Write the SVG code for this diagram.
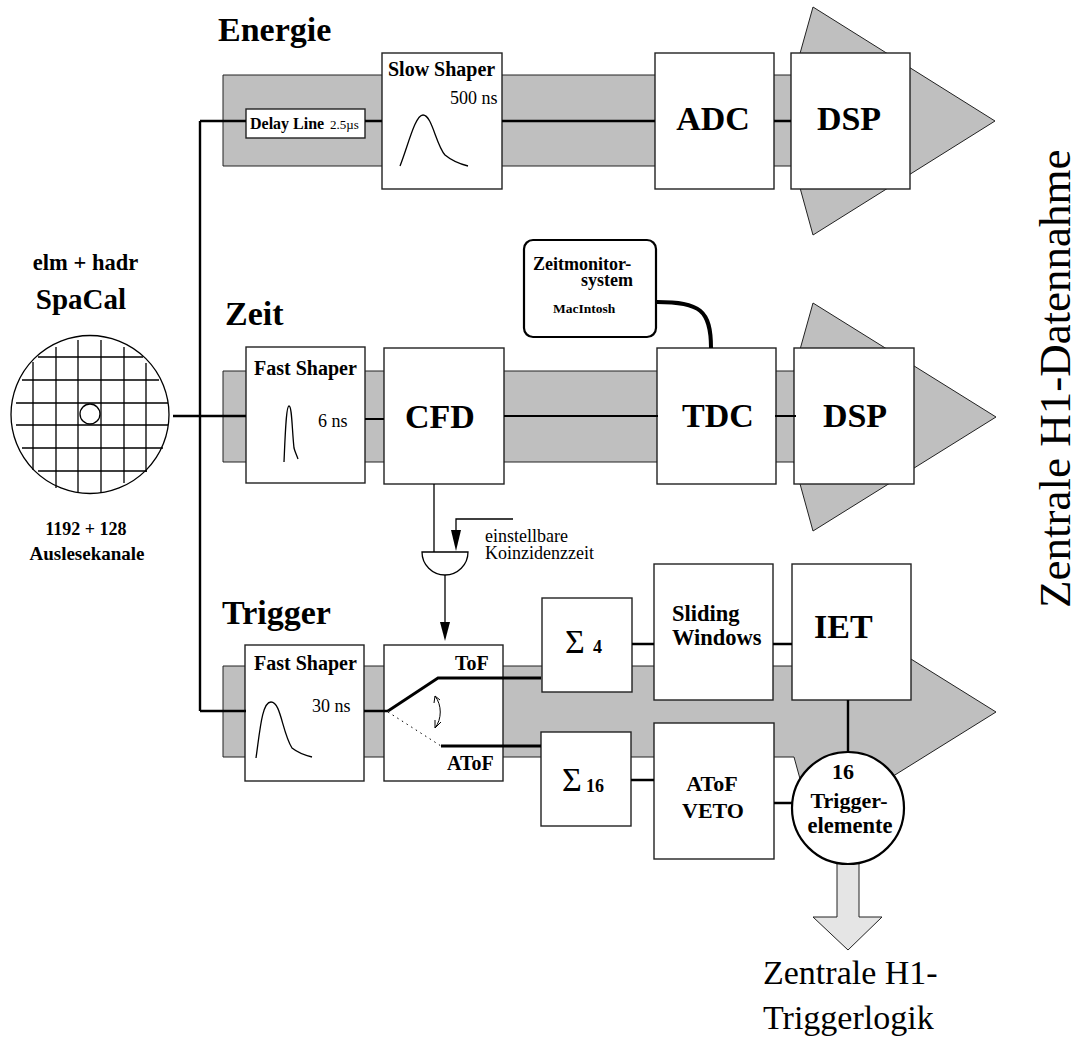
<svg xmlns="http://www.w3.org/2000/svg" width="1075" height="1038" viewBox="0 0 1075 1038">
<style>
text{font-family:"Liberation Serif","Times New Roman",serif;fill:#000}
.b{font-weight:bold}
.box{fill:#fff;stroke:#222;stroke-width:1.4}
.bar{fill:#bfbfbf;stroke:#222;stroke-width:1}
.w{fill:none;stroke:#000;stroke-width:2.4}
.t{fill:none;stroke:#000;stroke-width:1.3}
.h1{font-size:34px;font-weight:bold}
.lab{font-size:20px;font-weight:bold}
.m{text-anchor:middle}
</style>
<rect width="1075" height="1038" fill="#fff"/>
<g id="flow-arrows">
<path class="bar" d="M223 75H794L813 7L995 121L813 235L794 166H223Z"/>
<path class="bar" d="M223 371H794L813 303L996 417L813 531L794 462H223Z"/>
<path class="bar" d="M223 666H794L813 598L996 712L813 826L794 757H223Z"/>
</g>
<g id="spacal">
<circle cx="90" cy="414.500" r="79" fill="#fff" stroke="#000" stroke-width="1.300"/>
<path class="t" d="M33 362V470M56 347V488M78 340V493M101 340V493M124 347V483M146 363V472M38 357H143M22 380H159M16 403H168M16 425H168M22 448H163M38 471H147"/>
<circle cx="90" cy="414" r="10" fill="#fff" stroke="#000" stroke-width="1.300"/>
<text class="b m" x="85.500" y="270" font-size="22.500">elm + hadr</text>
<text class="b m" x="81" y="309" font-size="29">SpaCal</text>
<text class="b m" x="86" y="535" font-size="18">1192 + 128</text>
<text class="b m" x="87" y="560" font-size="19">Auslesekanale</text>
</g>
<g id="delay-line"><rect class="box" x="246" y="109" width="119" height="29"/>
<text class="b" x="250" y="129" font-size="16">Delay Line</text><text x="330" y="129" font-size="13">2.5µs</text></g>
<g id="slow-shaper"><rect class="box" x="382" y="53" width="120" height="136"/>
<text class="lab" x="388" y="76">Slow Shaper</text><text x="450" y="104" font-size="18">500 ns</text>
<path class="t" d="M400 166C408 146 415 115 423 115C432 115 436 145 445 155C451 160 460 164 468 166"/></g>
<g id="adc"><rect class="box" x="655" y="53" width="119" height="136"/><text class="h1 m" x="713" y="130">ADC</text></g>
<g id="dsp1"><rect class="box" x="791" y="53" width="119" height="136"/><text class="h1 m" x="849" y="130">DSP</text></g>
<g id="fast-shaper-zeit"><rect class="box" x="246" y="347" width="119" height="136"/>
<text class="lab" x="254" y="375">Fast Shaper</text><text x="318" y="427" font-size="18">6 ns</text>
<path class="t" d="M284 462C285 440 286 406 289 406C292 406 292 430 294 448C295 452 297 456 298 459"/></g>
<g id="cfd"><rect class="box" x="384" y="348" width="120" height="136"/><text class="h1 m" x="440" y="428">CFD</text></g>
<g id="zeitmonitor"><rect x="524" y="240" width="132" height="97" rx="9" fill="#fff" stroke="#000" stroke-width="2.200"/>
<text class="b" x="533" y="270" font-size="18">Zeitmonitor-</text><text class="b" x="581" y="286" font-size="18">system</text><text class="b" x="553" y="313" font-size="13.500">MacIntosh</text></g>
<g id="tdc"><rect class="box" x="657" y="348" width="119" height="136"/><text class="h1 m" x="718" y="427">TDC</text></g>
<g id="dsp2"><rect class="box" x="794" y="348" width="120" height="136"/><text class="h1 m" x="855" y="427">DSP</text></g>
<g id="fast-shaper-trigger"><rect class="box" x="245" y="645" width="119" height="136"/>
<text class="lab" x="254" y="670">Fast Shaper</text><text x="312" y="712" font-size="18">30 ns</text>
<path class="t" d="M256 758C260 730 262 702 271 702C281 702 282 732 292 748C297 752 304 755 312 757"/></g>
<g id="switch"><rect class="box" x="384" y="645" width="119" height="136"/>
<text class="lab" x="455" y="670">ToF</text><text class="lab" x="447" y="770">AToF</text></g>
<g id="sum4"><rect class="box" x="542" y="598" width="90" height="94"/><text class="h1" x="565" y="653" style="font-weight:normal">Σ</text><text class="b" x="593" y="653" font-size="18">4</text></g>
<g id="sum16"><rect class="box" x="541" y="732" width="90" height="94"/><text class="h1" x="562" y="791" style="font-weight:normal">Σ</text><text class="b" x="586" y="792" font-size="18">16</text></g>
<g id="sliding"><rect class="box" x="654" y="564" width="119" height="136"/><text class="b" x="672" y="621" font-size="22.500">Sliding</text><text class="b" x="672" y="645" font-size="22.500">Windows</text></g>
<g id="iet"><rect class="box" x="792" y="564" width="119" height="136"/><text class="h1" x="814" y="638">IET</text></g>
<g id="veto"><rect class="box" x="654" y="723" width="120" height="136"/><text class="b m" x="712" y="791" font-size="22">AToF</text><text class="b m" x="713" y="818" font-size="22">VETO</text></g>
<g id="down-arrow"><path d="M837 860V917H813L848 950L882 917H859V860Z" fill="#e5e5e5" stroke="#222" stroke-width="1"/></g>
<g id="trigger-elements"><circle cx="848" cy="808" r="56" fill="#fff" stroke="#000" stroke-width="2.200"/>
<text class="b m" x="843" y="779" font-size="22">16</text><text class="b m" x="849" y="808" font-size="22">Trigger-</text><text class="b m" x="850" y="833" font-size="22.500">elemente</text></g>
<g id="gate"><path d="M422 552H468A23 23 0 0 1 422 552Z" fill="#fff" stroke="#000" stroke-width="1.300"/></g>
<g id="connectors">
<path class="w" d="M200 121V711M173 416H246M200 121H246M365 121H382M502 121H655M774 121H791M200 711H246M364 711H388M632 644H654M773 644H792M631 780H654M848 700V752M774 803H792"/>
<path fill="none" stroke="#000" stroke-width="4" d="M657 302C700 302 711 310 711 348"/>
<path fill="none" stroke="#000" stroke-width="2" d="M365 419H384M504 416H658M775 416H796"/>
<path fill="none" stroke="#000" stroke-width="2.800" d="M388 711L438 678H541M441 746H541"/>
<path fill="none" stroke="#000" stroke-width="1" stroke-dasharray="1.500 4" d="M388 712L441 746"/>
<path class="t" d="M434 484V552M513 519H456V530"/>
<path d="M451 530H461L456 551Z" fill="#000"/>
<path class="t" d="M445 575V622"/>
<path d="M440 622H450L445 641Z" fill="#000"/>
<path fill="none" stroke="#000" stroke-width="1" d="M435 696C442 705 442 719 435 728M434 703L435 696L440 700M441 722L435 728L435 720"/>
</g>
<g id="labels">
<text class="h1" x="218" y="41">Energie</text>
<text class="h1" x="225" y="325">Zeit</text>
<text class="h1" x="222" y="624">Trigger</text>
<text x="485" y="542" font-size="18">einstellbare</text>
<text x="485" y="559" font-size="18">Koinzidenzzeit</text>
<text x="763" y="984" font-size="34">Zentrale H1-</text>
<text x="763" y="1029" font-size="34">Triggerlogik</text>
<text transform="translate(1070 608) rotate(-90)" font-size="45">Zentrale H1-Datennahme</text>
</g>
</svg>
